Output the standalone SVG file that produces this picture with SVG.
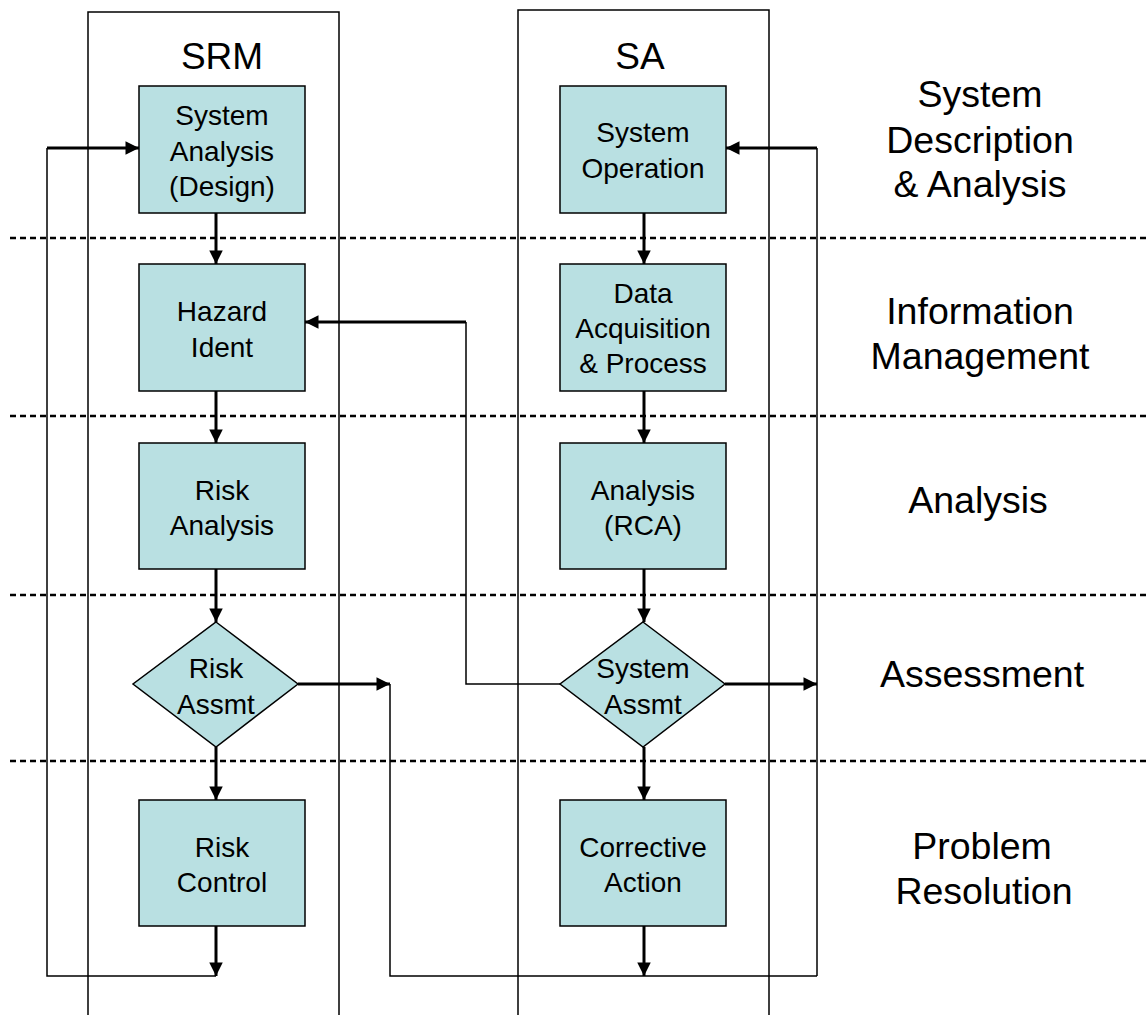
<svg xmlns="http://www.w3.org/2000/svg" width="1146" height="1015" viewBox="0 0 1146 1015">
  <style>
    .lane { fill: none; stroke: #000; stroke-width: 1.5; }
    .sep { stroke: #000; stroke-width: 2.5; stroke-dasharray: 6 4; }
    .box { fill: #B9E0E2; stroke: #000; stroke-width: 1.5; }
    .t { font-family: "Liberation Sans", Arial, sans-serif; font-size: 28px; text-anchor: middle; fill: #000; }
    .head { font-family: "Liberation Sans", Arial, sans-serif; font-size: 37px; text-anchor: middle; fill: #000; }
    .stage { font-family: "Liberation Sans", Arial, sans-serif; font-size: 37.5px; text-anchor: middle; fill: #000; }
    .flow { fill: none; stroke: #000; stroke-width: 3; }
    .thin { fill: none; stroke: #000; stroke-width: 1.5; }
  </style>
  <defs>
    <marker id="arr" viewBox="0 0 10 10" refX="10" refY="5" markerWidth="5" markerHeight="4.5" markerUnits="strokeWidth" orient="auto">
      <path d="M0,0 L10,5 L0,10 z" fill="#000"/>
    </marker>
  </defs>
  <rect width="1146" height="1015" fill="#fff"/>

  <!-- swimlanes -->
  <g id="lanes">
    <path class="lane" d="M88,1015 V12 H339 V1015"/>
    <path class="lane" d="M518,1015 V10 H769 V1015"/>
    <text class="head" x="222" y="69">SRM</text>
    <text class="head" x="640" y="69">SA</text>
  </g>

  <!-- stage separators -->
  <g id="separators">
    <line class="sep" x1="10" y1="238" x2="1146" y2="238"/>
    <line class="sep" x1="10" y1="416" x2="1146" y2="416"/>
    <line class="sep" x1="10" y1="595" x2="1146" y2="595"/>
    <line class="sep" x1="10" y1="761" x2="1146" y2="761"/>
  </g>

  <!-- stage labels -->
  <g id="stages">
    <text class="stage" x="980" y="107">System</text>
    <text class="stage" x="980" y="153">Description</text>
    <text class="stage" x="980" y="197">&amp; Analysis</text>
    <text class="stage" x="980" y="324">Information</text>
    <text class="stage" x="980" y="369">Management</text>
    <text class="stage" x="978" y="513">Analysis</text>
    <text class="stage" x="982" y="687">Assessment</text>
    <text class="stage" x="982" y="859">Problem</text>
    <text class="stage" x="984" y="904">Resolution</text>
  </g>

  <!-- connectors -->
  <g id="connectors">
    <line class="flow" x1="216" y1="213" x2="216" y2="264" marker-end="url(#arr)"/>
    <line class="flow" x1="216" y1="391" x2="216" y2="443" marker-end="url(#arr)"/>
    <line class="flow" x1="216" y1="569" x2="216" y2="622" marker-end="url(#arr)"/>
    <line class="flow" x1="216" y1="747" x2="216" y2="800" marker-end="url(#arr)"/>
    <line class="flow" x1="216" y1="926" x2="216" y2="976" marker-end="url(#arr)"/>
    <line class="flow" x1="644" y1="213" x2="644" y2="264" marker-end="url(#arr)"/>
    <line class="flow" x1="644" y1="391" x2="644" y2="443" marker-end="url(#arr)"/>
    <line class="flow" x1="644" y1="569" x2="644" y2="622" marker-end="url(#arr)"/>
    <line class="flow" x1="644" y1="747" x2="644" y2="800" marker-end="url(#arr)"/>
    <line class="flow" x1="644" y1="926" x2="644" y2="976" marker-end="url(#arr)"/>

    <!-- SRM loop back to system analysis -->
    <path class="thin" d="M216,976 H47 V148"/>
    <line class="flow" x1="47" y1="148" x2="139" y2="148" marker-end="url(#arr)"/>

    <!-- risk assessment out to SA loop -->
    <line class="flow" x1="298" y1="684" x2="390" y2="684" marker-end="url(#arr)"/>
    <path class="thin" d="M390,684 V976 H817"/>

    <!-- SA loop back to system operation -->
    <line class="flow" x1="725" y1="684" x2="817" y2="684" marker-end="url(#arr)"/>
    <path class="thin" d="M817,976 V148"/>
    <line class="flow" x1="817" y1="148" x2="726" y2="148" marker-end="url(#arr)"/>

    <!-- system assessment feeds hazard identification -->
    <path class="thin" d="M560,684 H466 V322"/>
    <line class="flow" x1="466" y1="322" x2="305" y2="322" marker-end="url(#arr)"/>
  </g>

  <!-- SRM nodes -->
  <g id="sys-analysis">
    <rect class="box" x="139" y="86" width="166" height="127"/>
    <text class="t" x="222" y="125">System</text>
    <text class="t" x="222" y="161">Analysis</text>
    <text class="t" x="222" y="196">(Design)</text>
  </g>
  <g id="hazard-ident">
    <rect class="box" x="139" y="264" width="166" height="127"/>
    <text class="t" x="222" y="321">Hazard</text>
    <text class="t" x="222" y="357">Ident</text>
  </g>
  <g id="risk-analysis">
    <rect class="box" x="139" y="443" width="166" height="126"/>
    <text class="t" x="222" y="500">Risk</text>
    <text class="t" x="222" y="535">Analysis</text>
  </g>
  <g id="risk-assmt">
    <polygon class="box" points="216,622 298,684 216,747 133,684"/>
    <text class="t" x="216" y="678">Risk</text>
    <text class="t" x="216" y="714">Assmt</text>
  </g>
  <g id="risk-control">
    <rect class="box" x="139" y="800" width="166" height="126"/>
    <text class="t" x="222" y="857">Risk</text>
    <text class="t" x="222" y="892">Control</text>
  </g>

  <!-- SA nodes -->
  <g id="sys-operation">
    <rect class="box" x="560" y="86" width="166" height="127"/>
    <text class="t" x="643" y="142">System</text>
    <text class="t" x="643" y="178">Operation</text>
  </g>
  <g id="data-acq">
    <rect class="box" x="560" y="264" width="166" height="127"/>
    <text class="t" x="643" y="303">Data</text>
    <text class="t" x="643" y="338">Acquisition</text>
    <text class="t" x="643" y="373">&amp; Process</text>
  </g>
  <g id="rca">
    <rect class="box" x="560" y="443" width="166" height="126"/>
    <text class="t" x="643" y="500">Analysis</text>
    <text class="t" x="643" y="535">(RCA)</text>
  </g>
  <g id="sys-assmt">
    <polygon class="box" points="643,622 725,684 643,747 560,684"/>
    <text class="t" x="643" y="678">System</text>
    <text class="t" x="643" y="714">Assmt</text>
  </g>
  <g id="corrective">
    <rect class="box" x="560" y="800" width="166" height="126"/>
    <text class="t" x="643" y="857">Corrective</text>
    <text class="t" x="643" y="892">Action</text>
  </g>
</svg>
